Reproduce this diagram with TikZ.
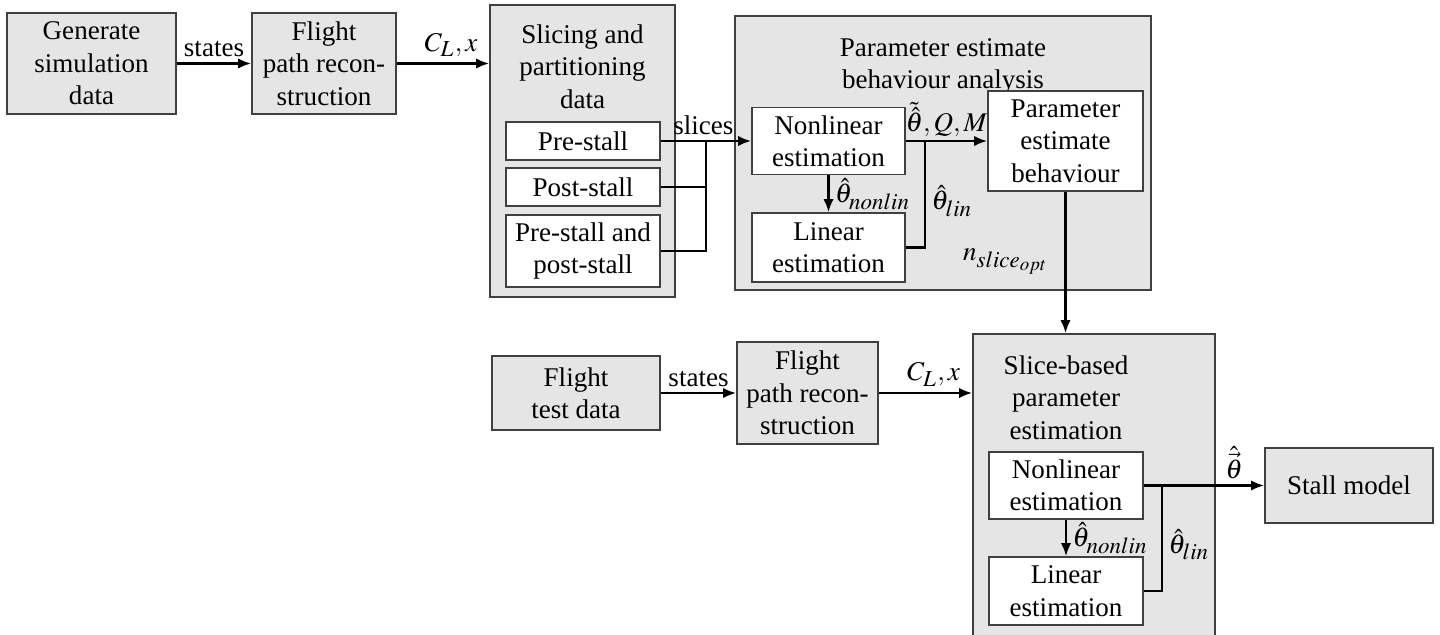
\documentclass[tikz,border=0pt]{standalone}
\usepackage{mathptmx}
\usepackage[no-math]{fontspec}
\setmainfont{Liberation Serif}
\usetikzlibrary{arrows.meta}
\DeclareMathSizes{10}{10}{8.5}{7}

\begin{document}
\begin{tikzpicture}[x=0.37pt,y=-0.37pt,
  groupbox/.style={draw=black!75, line width=0.6pt, fill=black!10, inner sep=0pt},
  blk/.style={draw=black!75, line width=0.6pt, fill=black!10, align=center, inner sep=0pt},
  sub/.style={draw=black!75, line width=0.6pt, fill=white, align=center, inner sep=0pt},
  heading/.style={align=center, inner sep=0pt, anchor=north},
  flow/.style={line width=0.9pt, -{Latex[length=4.8pt,width=3.8pt]}},
  wire/.style={line width=0.9pt},
  lbl/.style={inner sep=2pt}]
\useasboundingbox (0,0) rectangle (1440,634);

% ---- simulation branch
\node[blk, minimum width=62.53pt, minimum height=37.37pt] (gen) at (91.5,63.5) {Generate\\simulation\\data};
\node[blk, minimum width=53.28pt, minimum height=37.37pt] (fpr1) at (324,63.5) {Flight\\path recon-\\struction};

\node[groupbox, minimum width=68.45pt, minimum height=108.04pt] (slicing) at (582.5,151) {};
\node[heading] (slicingtitle) at (582.5,24) {Slicing and\\partitioning\\data};
\node[sub, minimum width=56.98pt, minimum height=14.06pt] (pre) at (583,141) {Pre-stall};
\node[sub, minimum width=56.98pt, minimum height=14.06pt] (post) at (583,187) {Post-stall};
\node[sub, minimum width=56.98pt, minimum height=26.64pt] (both) at (583,251) {Pre-stall and\\post-stall};

\node[groupbox, minimum width=153.92pt, minimum height=101.38pt] (param) at (943,153) {};
\node[heading] (paramtitle) at (943,38) {Parameter estimate\\behaviour analysis};
\node[sub, minimum width=56.61pt, minimum height=24.79pt] (nl1) at (828.5,141) {Nonlinear\\estimation};
\node[sub, minimum width=56.61pt, minimum height=25.53pt] (lin1) at (828.5,247.5) {Linear\\estimation};
\node[sub, minimum width=57.35pt, minimum height=37pt] (peb) at (1065.5,141) {Parameter\\estimate\\behaviour};
\node[lbl] (nslice) at (1006,262) {$n_{slice_{opt}}$};

% ---- flight test branch
\node[blk, minimum width=62.16pt, minimum height=27.38pt] (ftd) at (576,393) {Flight\\test data};
\node[blk, minimum width=52.17pt, minimum height=37.74pt] (fpr2) at (807.5,393) {Flight\\path recon-\\struction};

\node[groupbox, minimum width=89.54pt, minimum height=116.92pt] (sbp) at (1094,492) {};
\node[heading] (sbptitle) at (1066,355) {Slice-based\\parameter\\estimation};
\node[sub, minimum width=56.98pt, minimum height=24.79pt] (nl2) at (1066,485.5) {Nonlinear\\estimation};
\node[sub, minimum width=56.98pt, minimum height=25.16pt] (lin2) at (1066,591) {Linear\\estimation};
\node[blk, minimum width=62.16pt, minimum height=27.75pt] (stall) at (1349,485.5) {Stall model};

% ---- connectors, upper part
\draw[flow] (gen.east) -- node[above,lbl] {states} (fpr1.west);
\draw[flow] (fpr1.east) -- node[above,lbl,xshift=3pt] {$C_L, x$} (fpr1.east -| slicing.west);
\coordinate (j1) at (706,141);
\draw[flow] (pre.east) -- (j1) node[above,lbl,xshift=-1pt] {slices} -- (nl1.west);
\draw[wire] (post.east) -| (j1);
\draw[wire] (both.east) -| (j1);
\draw[flow] (nl1.east) -- node[above,inner sep=1pt] {$\tilde{\hat{\theta}}, Q, M$} (peb.west);
\coordinate (j2) at (925,141);
\draw[wire] (lin1.east) -| (j2) node[pos=0.72,right,lbl] {$\hat{\theta}_{lin}$};
\draw[flow] (nl1) -- node[right,lbl] {$\hat{\theta}_{nonlin}$} (lin1);
\draw[flow] (peb.south) -- (peb.south |- sbp.north);

% ---- connectors, lower part
\draw[flow] (ftd.east) -- node[above,lbl] {states} (fpr2.west);
\draw[flow] (fpr2.east) -- node[above,lbl,xshift=3pt] {$C_L, x$} (fpr2.east -| sbp.west);
\draw[flow] (nl2.east) -- node[above,lbl,pos=0.75] {$\hat{\vec{\theta}}$} (stall.west);
\coordinate (j3) at (1162,485.5);
\draw[wire] (lin2.east) -| (j3) node[pos=0.72,right,lbl] {$\hat{\theta}_{lin}$};
\draw[flow] (nl2) -- node[right,lbl] {$\hat{\theta}_{nonlin}$} (lin2);
\end{tikzpicture}
\end{document}
